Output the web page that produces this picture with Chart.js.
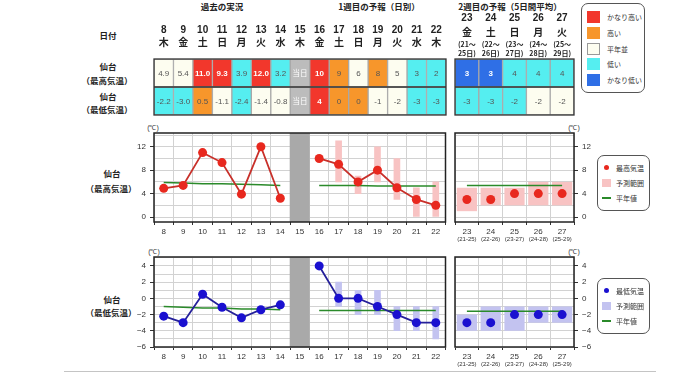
<!DOCTYPE html>
<html><head><meta charset="utf-8">
<script src="https://cdn.jsdelivr.net/npm/chart.js@4"></script>
<style>
body{margin:0;width:680px;height:382px;background:#fff;position:relative;overflow:hidden;font-family:'Noto Sans CJK JP',sans-serif;color:#222;}
canvas{position:absolute;}
.t{position:absolute;transform:translate(-50%,-50%);white-space:nowrap;line-height:1;font-weight:bold;font-size:8.5px;}
.u{position:absolute;transform:translate(-50%,-50%);white-space:nowrap;line-height:1;font-size:7px;font-family:'Liberation Sans',sans-serif;color:#333;}
.lg{position:absolute;border:1px solid #555;border-radius:7px;background:#fff;box-sizing:border-box;}
.lg div{position:absolute;}
.lt{font-size:7px;line-height:1;transform:translateY(-50%);white-space:nowrap;color:#333;}
.hr{position:absolute;left:64px;top:371px;width:592px;height:0;border-top:1.5px solid #c4c4c4;}
</style></head>
<body>
<div class="t" style="left:222px;top:6px">過去の実況</div>
<div class="t" style="left:379px;top:6px">1週目の予報（日別）</div>
<div class="t" style="left:510px;top:6px">2週目の予報（5日間平均）</div>
<div class="t" style="left:108px;top:35px">日付</div>
<div class="t" style="left:108px;top:66px">仙台</div>
<div class="t" style="left:107px;top:80px">（最高気温）</div>
<div class="t" style="left:108px;top:96px">仙台</div>
<div class="t" style="left:107px;top:109px">（最低気温）</div>
<div class="t" style="left:112px;top:173px">仙台</div>
<div class="t" style="left:111px;top:188px">（最高気温）</div>
<div class="t" style="left:112px;top:299px">仙台</div>
<div class="t" style="left:111px;top:312px">（最低気温）</div>
<div class="u" style="left:153px;top:127px">(℃)</div>
<div class="u" style="left:574px;top:127px">(℃)</div>
<div class="u" style="left:154px;top:251px">(℃)</div>
<div class="u" style="left:574px;top:251px">(℃)</div>

<canvas id="t1" width="300" height="120" style="left:150px;top:0px"></canvas>
<canvas id="t2" width="130" height="120" style="left:450px;top:0px"></canvas>
<canvas id="c1" width="350" height="130" style="left:100px;top:118px"></canvas>
<canvas id="c2" width="154" height="130" style="left:450px;top:118px"></canvas>
<canvas id="c3" width="350" height="130" style="left:100px;top:243px"></canvas>
<canvas id="c4" width="154" height="130" style="left:450px;top:243px"></canvas>

<div class="lg" id="lg1" style="left:581px;top:3px;width:64px;height:90px;"></div>
<div class="lg" id="lg2" style="left:597px;top:155px;width:53px;height:56px;"></div>
<div class="lg" id="lg3" style="left:597px;top:278px;width:53px;height:56px;"></div>
<div class="hr"></div>

<script>
// ---------- data ----------
const days1 = [8,9,10,11,12,13,14,15,16,17,18,19,20,21,22];
const wdays1 = ['木','金','土','日','月','火','水','木','金','土','日','月','火','水','木'];
const days2 = [23,24,25,26,27];
const wdays2 = ['金','土','日','月','火'];
const periodStart = [21,22,23,24,25];
const periodEnd = [25,26,27,28,29];

const obsMax = [4.9,5.4,11.0,9.3,3.9,12.0,3.2];
const obsMin = [-2.2,-3.0,0.5,-1.1,-2.4,-1.4,-0.8];
const fcMax = [10,9,6,8,5,3,2];
const fcMin = [4,0,0,-1,-2,-3,-3];
const fcMaxLo = [null,6,4,6,3,0,0];
const fcMaxHi = [null,13,7,12,10,5,6];
const fcMinLo = [null,-1,-2,-2,-4,-4,-5];
const fcMinHi = [null,2,1,1,-1,-1,-1];
const normMaxObs = [5.9,5.8,5.7,5.7,5.6,5.5,5.4];
const normMaxFc = [5.4,5.4,5.4,5.3,5.3,5.3,5.3];
const normMinObs = [-1.0,-1.1,-1.2,-1.2,-1.3,-1.3,-1.4];
const normMinFc = [-1.5,-1.5,-1.5,-1.5,-1.5,-1.5,-1.5];

const w2Max = [3,3,4,4,4];
const w2MaxLo = [1,2,2,2,2];
const w2MaxHi = [5,5,5,6,6];
const w2Min = [-3,-3,-2,-2,-2];
const w2MinLo = [-4,-4,-4,-3,-3];
const w2MinHi = [-2,-1,-1,-1,-1];
const w2NormMax = [5.4,5.4,5.4,5.4,5.4];
const w2NormMin = [-1.6,-1.6,-1.6,-1.6,-1.6];

// class: vh=かなり高い h=高い n=平年並 l=低い vl=かなり低い t=当日
const maxClass1 = ['n','n','vh','vh','l','vh','l','t','vh','h','n','h','n','l','l'];
const minClass1 = ['l','l','h','n','l','n','n','t','vh','h','h','n','n','l','l'];
const maxClass2 = ['vl','vl','l','l','l'];
const minClass2 = ['l','l','l','n','n'];
const classNames = ['かなり高い','高い','平年並','低い','かなり低い'];
const classKeys = ['vh','h','n','l','vl'];

// ---------- styles ----------
const classColor = {vh:'#f2372c', h:'#f7962b', n:'#fdfdf0', l:'#55eef0', vl:'#2f6fe6', t:'#bcbcbc'};
const todayLabel = '当日';
const GREEN = '#2a8a2a';
const MAXC = {line:'#c8302a', point:'#e8281e', range:'#f8c3c3'};
const MINC = {line:'#25209a', point:'#1a10d0', range:'#c3c3f0'};
const NUMFONT = "'Liberation Sans', Arial, sans-serif";
const JPFONT = "'Noto Sans CJK JP', sans-serif";
Chart.defaults.font.family = NUMFONT;
Chart.defaults.font.size = 8;
Chart.defaults.color = '#333';

const todayIdx = days1.indexOf(15);
const padArr = (arr, before, after) => [...Array(before).fill(null), ...arr, ...Array(after).fill(null)];
const rangeData = (lo, hi) => lo.map((v,i) => v == null ? null : [v, hi[i]]);

// ---------- tables ----------
function cellTextPlugin(rows){
  return {id:'cellText', afterDraw(c){
    const ctx = c.ctx; ctx.save();
    ctx.textAlign='center'; ctx.textBaseline='middle';
    rows.forEach((r, ri) => {
      const meta = c.getDatasetMeta(ri);
      meta.data.forEach((el, i) => {
        const k = r.cls[i];
        const strong = (k==='vh'||k==='vl'||k==='t');
        ctx.fillStyle = strong ? '#fff' : '#555';
        const txt = r.text[i];
        ctx.font = (txt === todayLabel) ? '7.5px ' + JPFONT : ((strong ? 'bold ' : '') + '8px ' + NUMFONT);
        ctx.fillText(txt, el.x, (el.y + el.base)/2 + 0.5);
      });
    });
    const a = c.chartArea;
    ctx.strokeStyle = '#333'; ctx.lineWidth = 1.3;
    ctx.strokeRect(a.left, a.top, a.right-a.left, a.bottom-a.top);
    for (let k = 1; k < rows.length; k++) {
      const y = c.scales.y.getPixelForValue(k);
      ctx.beginPath(); ctx.moveTo(a.left, y); ctx.lineTo(a.right, y); ctx.stroke();
    }
    ctx.restore();
  }};
}
function headPlugin(headRows){
  return {id:'head', afterDraw(c){
    const ctx = c.ctx; ctx.save();
    ctx.textAlign='center'; ctx.textBaseline='middle'; ctx.fillStyle='#222';
    headRows.forEach(r => {
      ctx.font = r.font;
      r.texts.forEach((t,i) => ctx.fillText(t, c.scales.x.getPixelForValue(i), r.y));
    });
    ctx.restore();
  }};
}
function tableChart(id, labels, rows, headRows, pad){
  const R = rows.length;
  const datasets = rows.map((r, ri) => ({
    type:'bar',
    data: r.cls.map(() => [R-ri-1, R-ri]),
    backgroundColor: r.cls.map(k => classColor[k]),
    borderColor:'#a8a8a8', borderWidth:1, borderSkipped:false,
    barPercentage:1, categoryPercentage:1, grouped:false
  }));
  return new Chart(document.getElementById(id), {
    type:'bar',
    data:{labels, datasets},
    options:{
      responsive:false, animation:false, events:[],
      layout:{padding:pad},
      plugins:{legend:{display:false}, tooltip:{enabled:false}},
      scales:{
        x:{display:false, offset:true},
        y:{display:false, min:0, max:R}
      }
    },
    plugins:[cellTextPlugin(rows), headPlugin(headRows)]
  });
}

const maxText1 = days1.map((d,i) => i < obsMax.length ? obsMax[i].toFixed(1) : (i === todayIdx ? todayLabel : String(fcMax[i-todayIdx-1])));
const minText1 = days1.map((d,i) => i < obsMin.length ? obsMin[i].toFixed(1) : (i === todayIdx ? todayLabel : String(fcMin[i-todayIdx-1])));

tableChart('t1', days1.map(String),
  [{cls:maxClass1, text:maxText1},{cls:minClass1, text:minText1}],
  [{texts:days1.map(String), font:'bold 10px '+NUMFONT, y:30},
   {texts:wdays1, font:'bold 10px '+JPFONT, y:42}],
  {left:4, right:4, top:59, bottom:5});

tableChart('t2', days2.map(String),
  [{cls:maxClass2, text:w2Max.map(String)},{cls:minClass2, text:w2Min.map(String)}],
  [{texts:days2.map(String), font:'bold 10px '+NUMFONT, y:18},
   {texts:wdays2, font:'bold 10px '+JPFONT, y:32},
   {texts:periodStart.map(s => '('+s+'～'), font:'bold 7px '+JPFONT, y:44},
   {texts:periodEnd.map(e => e+'日)'), font:'bold 7px '+JPFONT, y:53}],
  {left:5, right:6, top:59, bottom:5});

// ---------- line charts ----------
const framePlugin = {id:'frame', afterDraw(c){
  const a = c.chartArea, ctx = c.ctx; ctx.save();
  ctx.strokeStyle='#222'; ctx.lineWidth=1.5;
  ctx.strokeRect(a.left, a.top, a.right-a.left, a.bottom-a.top);
  ctx.restore();
}};
function subLabelPlugin(labels){
  return {id:'subLabels', afterDraw(c){
    const ctx = c.ctx; ctx.save();
    ctx.font = '6px ' + NUMFONT; ctx.fillStyle='#333';
    ctx.textAlign='center'; ctx.textBaseline='middle';
    labels.forEach((t,i) => ctx.fillText(t, c.scales.x.getPixelForValue(i), c.chartArea.bottom + 17));
    ctx.restore();
  }};
}
function yScale(yr, side, width){
  return {
    position: side, min: yr.min, max: yr.max,
    afterFit(s){ s.width = width; },
    border:{display:false},
    grid:{color:'#d2d2d2', lineWidth:1, tickLength:4,
          tickColor: ctx => (ctx.tick && ctx.tick.value % yr.label === 0) ? '#333' : 'rgba(0,0,0,0)'},
    ticks:{stepSize: yr.step, includeBounds:false, padding:4, autoSkip:false,
           callback: v => v % yr.label === 0 ? String(v).replace('-', '−') : ''}
  };
}
function xScale(){
  return {
    offset:true, afterFit(s){ s.height = 26; },
    border:{display:false},
    grid:{offset:true, color:'#d2d2d2', tickLength:3, tickColor:'#333'},
    ticks:{padding:2, maxRotation:0, autoSkip:false}
  };
}
function week1Chart(id, obs, fc, lo, hi, nObs, nFc, yr, col, padTop){
  const N = days1.length;
  const today = days1.map((d,i) => i === todayIdx ? [yr.min, yr.max] : null);
  const pt = {pointRadius:4.5, pointHoverRadius:4.5, pointBackgroundColor:col.point, pointBorderColor:col.point, pointBorderWidth:0, borderColor:col.line, borderWidth:1.8, tension:0, order:1};
  return new Chart(document.getElementById(id), {
    data:{labels: days1.map(String), datasets:[
      Object.assign({type:'line', data: padArr(obs, 0, N-obs.length)}, pt),
      Object.assign({type:'line', data: padArr(fc, N-fc.length, 0)}, pt),
      {type:'line', data: padArr(nObs, 0, N-nObs.length), borderColor:GREEN, borderWidth:1.5, pointRadius:0, order:2},
      {type:'line', data: padArr(nFc, N-nFc.length, 0), borderColor:GREEN, borderWidth:1.5, pointRadius:0, order:2},
      {type:'bar', data: padArr(rangeData(lo,hi), N-lo.length, 0), backgroundColor:col.range, barThickness:6, grouped:false, order:3},
      {type:'bar', data: today, backgroundColor:'#a9a9a9', barPercentage:1, categoryPercentage:1, grouped:false, order:4}
    ]},
    options:{
      responsive:false, animation:false, events:[],
      layout:{padding:{left:0, right:4, top:padTop, bottom:0}},
      plugins:{legend:{display:false}, tooltip:{enabled:false}},
      scales:{x:xScale(), y:yScale(yr, 'left', 54)}
    },
    plugins:[framePlugin]
  });
}
function week2Chart(id, vals, lo, hi, norm, yr, col, padTop){
  return new Chart(document.getElementById(id), {
    data:{labels: days2.map(String), datasets:[
      {type:'line', data: vals, showLine:false, pointRadius:4.5, pointHoverRadius:4.5, pointBackgroundColor:col.point, pointBorderColor:col.point, pointBorderWidth:0, order:1},
      {type:'line', data: norm, borderColor:GREEN, borderWidth:1.5, pointRadius:0, order:2},
      {type:'bar', data: rangeData(lo,hi), backgroundColor:col.range, barPercentage:0.85, categoryPercentage:1, grouped:false, order:3}
    ]},
    options:{
      responsive:false, animation:false, events:[],
      layout:{padding:{left:5, right:0, top:padTop, bottom:0}},
      plugins:{legend:{display:false}, tooltip:{enabled:false}},
      scales:{x:xScale(), y:yScale(yr, 'right', 30)}
    },
    plugins:[framePlugin, subLabelPlugin(periodStart.map((s,i) => '(' + s + '-' + periodEnd[i] + ')'))]
  });
}
const yMax = {min:-0.85, max:14.35, step:2, label:4};
const yMin = {min:-6, max:5.1, step:1, label:2};
week1Chart('c1', obsMax, fcMax, fcMaxLo, fcMaxHi, normMaxObs, normMaxFc, yMax, MAXC, 15);
week2Chart('c2', w2Max, w2MaxLo, w2MaxHi, w2NormMax, yMax, MAXC, 15);
week1Chart('c3', obsMin, fcMin, fcMinLo, fcMinHi, normMinObs, normMinFc, yMin, MINC, 14);
week2Chart('c4', w2Min, w2MinLo, w2MinHi, w2NormMin, yMin, MINC, 14);

// ---------- legends ----------
(function(){
  const lg1 = document.getElementById('lg1');
  const tops = [7,23,39,54,70];
  classKeys.forEach((k,i) => {
    const sq = document.createElement('div');
    sq.style.cssText = `left:5px;top:${tops[i]}px;width:13px;height:12px;background:${classColor[k]};border:${k==='n'?'1px solid #999':'none'};box-sizing:border-box;`;
    lg1.appendChild(sq);
    const tx = document.createElement('div');
    tx.className = 'lt'; tx.textContent = classNames[i];
    tx.style.cssText += `left:25px;top:${tops[i]+6}px;`;
    lg1.appendChild(tx);
  });
  function lineLegend(id, name, col, ys){
    const el = document.getElementById(id);
    const dot = document.createElement('div');
    dot.style.cssText = `left:6px;top:${ys[0]-3}px;width:5px;height:5px;border-radius:50%;background:${col.point};`;
    el.appendChild(dot);
    const sq = document.createElement('div');
    sq.style.cssText = `left:4px;top:${ys[1]-4}px;width:9px;height:8px;background:${col.range};`;
    el.appendChild(sq);
    const ln = document.createElement('div');
    ln.style.cssText = `left:4px;top:${ys[2]-1}px;width:9px;height:2px;background:${GREEN};`;
    el.appendChild(ln);
    [name, '予測範囲', '平年値'].forEach((t,i) => {
      const tx = document.createElement('div');
      tx.className = 'lt'; tx.textContent = t;
      tx.style.cssText += `left:18px;top:${ys[i]}px;`;
      el.appendChild(tx);
    });
  }
  lineLegend('lg2', '最高気温', MAXC, [12,27,42]);
  lineLegend('lg3', '最低気温', MINC, [12,27,42]);
})();
</script>
</body></html>
